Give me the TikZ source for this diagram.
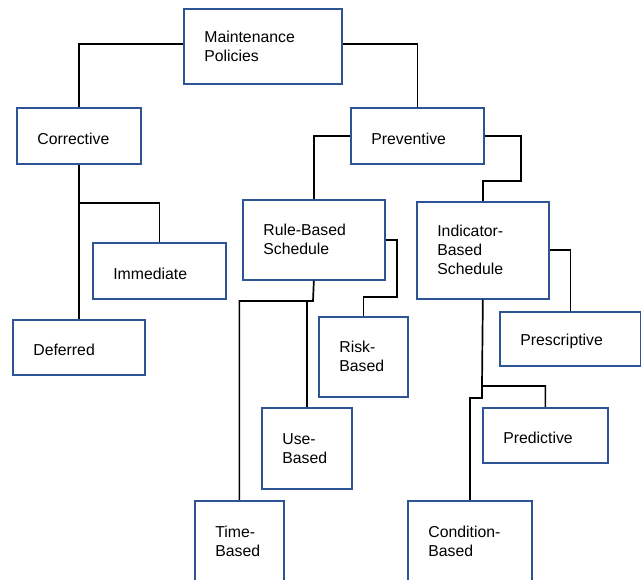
\documentclass[tikz,border=0pt]{standalone}
\usepackage{fontspec}
\setmainfont{Liberation Sans}
\definecolor{boxblue}{RGB}{47,84,150}
\tikzset{
  x=1pt,y=-1pt,
  box/.style={draw=boxblue,line width=1.7pt,fill=white,anchor=north west,
    inner xsep=20.5pt,inner ysep=0pt,align=left,
    font=\fontsize{15.8}{19}\selectfont},
  conn/.style={draw=black,line width=1.7pt},
}
\newcommand\mybox[7]{\node[box,minimum width=#4pt,minimum height=#5pt,text width=#6pt] (#1) at (#2,#3) {#7};}
\newcommand\dn[1]{\rule{0pt}{16.5pt}#1}
\begin{document}
\begin{tikzpicture}
\useasboundingbox (0,0) rectangle (641,580);
\mybox{mp}{183}{8}{158}{75}{117}{Maintenance\\Policies}
\mybox{corr}{16}{107}{124}{56}{83}{\dn{Corrective}}
\mybox{prev}{350}{107}{133}{56}{92}{\dn{Preventive}}
\mybox{imm}{92}{242}{133}{56}{92}{\dn{Immediate}}
\mybox{def}{12}{319}{132}{55}{91}{\dn{Deferred}}
\mybox{rule}{242}{199}{142}{80}{101}{Rule-Based\\Schedule}
\mybox{ind}{416}{201}{132}{97}{91}{Indicator-\\Based\\Schedule}
\mybox{risk}{318}{316}{89}{80}{48}{Risk-\\Based}
\mybox{pres}{499}{311}{141}{54}{100}{\dn{Prescriptive}}
\mybox{use}{261}{407}{90}{81}{49}{Use-\\Based}
\mybox{pred}{482}{407}{125}{55}{84}{\dn{Predictive}}
\mybox{time}{194}{500}{89}{82}{48}{Time-\\Based}
\mybox{cond}{407}{500}{124}{82}{83}{Condition-\\Based}
% connectors
\draw[conn] ([yshift=2.5pt]mp.west) -| (corr.north);
\draw[conn] ([yshift=2.5pt]mp.east) -| (prev.north);
\draw[conn] (corr.south) -- (def.north);
\coordinate (cb) at (78,203);
\draw[conn] (cb) -| (imm.north);
\draw[conn] (prev.west) -| (rule.north);
\coordinate (pv) at (521,181);
\draw[conn] (prev.east) -| (pv) -| (ind.north);
\coordinate (rr) at (397,297);
\draw[conn] (rule.east) -| (rr) -| (risk.north);
\coordinate (rb) at (313,301);
\draw[conn] (rule.south) -- (rb) -| (time.north);
\draw[conn] (rb -| use.north) -- (use.north);
\draw[conn] (ind.east) -| (pres.north);
\coordinate (ib) at (482,386);
\coordinate (ic) at (482,398);
\draw[conn] (ind.south) -- (ib) -| (pred.north);
\draw[conn] (ib) -- (ic) -| (cond.north);
\end{tikzpicture}
\end{document}
